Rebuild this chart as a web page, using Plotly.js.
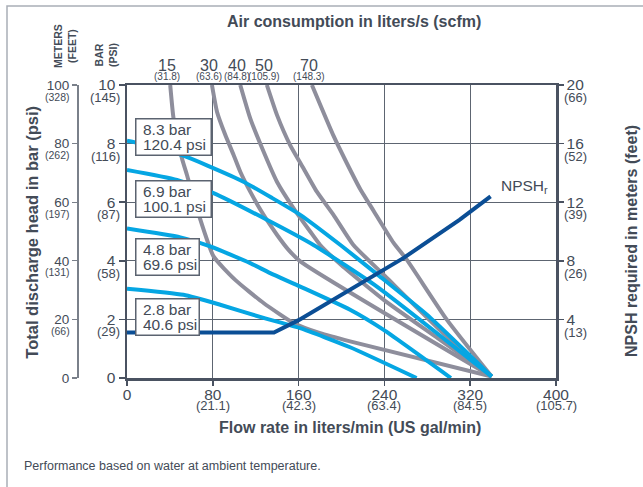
<!DOCTYPE html>
<html>
<head>
<meta charset="utf-8">
<script src="https://cdn.plot.ly/plotly-3.0.1.min.js"></script>
<style>
  html, body { margin: 0; padding: 0; background: #ffffff; }
  #chart { width: 643px; height: 487px; }
</style>
</head>
<body>
<div id="chart"></div>
<script>
// ---------------- DATA ----------------
const flowTicks = [0, 80, 160, 240, 320, 400];
const flowGal = ['', '(21.1)', '(42.3)', '(63.4)', '(84.5)', '(105.7)'];
const barTicks = [0, 2, 4, 6, 8, 10];
const psiLabels = ['', '(29)', '(58)', '(87)', '(116)', '(145)'];
const meterTicks = [0, 20, 40, 60, 80, 100];
const feetLabels = ['', '(66)', '(131)', '(197)', '(262)', '(328)'];
const npshTicks = [4, 8, 12, 16, 20];
const npshFeet = ['(13)', '(26)', '(39)', '(52)', '(66)'];

const airLps = ['15', '30', '40', '50', '70'];
const airScfm = ['(31.8)', '(63.6)', '(84.8)', '(105.9)', '(148.3)'];

// air consumption curves (flow l/min, head bar)
const air15X = [40.3, 43.4, 51.2, 55.9, 66.7, 80.7, 100.9, 127.3, 155.2, 180.1, 208, 340];
const air15Y = [10, 8.86, 7.5, 6.93, 5.6, 4.15, 3.35, 2.56, 1.88, 1.53, 1.25, 0.05];
const air30X = [79.2, 83.9, 91.6, 99.3, 105.6, 114.9, 127.3, 139.8, 150, 161.5, 340];
const air30Y = [10, 9.09, 8.3, 7.62, 7.04, 6.36, 5.57, 4.89, 4.4, 3.98, 0.05];
const air40X = [105.6, 114.9, 127.3, 139.8, 155.2, 170.8, 180.1, 200, 240, 290, 340];
const air40Y = [10, 8.86, 7.73, 6.7, 5.8, 5.0, 4.54, 3.85, 2.65, 1.35, 0.05];
const air50X = [130.4, 139.8, 152.1, 164.5, 177, 192.5, 211.1, 240, 290, 340];
const air50Y = [10, 8.98, 7.95, 7.16, 6.36, 5.57, 4.54, 3.5, 1.7, 0.05];
const air70X = [172.4, 192.5, 205, 217.4, 230, 248.4, 261, 298, 340];
const air70Y = [10, 8.27, 7.33, 6.45, 5.7, 4.62, 4.03, 2.0, 0.05];

// inlet air pressure curves (flow l/min, head bar)
const p83X = [0, 25, 50, 75, 108.6, 135, 161.5, 199, 236, 280, 340];
const p83Y = [8.1, 7.9, 7.62, 7.25, 6.7, 6.15, 5.57, 4.54, 3.46, 2.15, 0.05];
const p69X = [0, 46.6, 80.7, 130.4, 173.9, 233, 340];
const p69Y = [7.1, 6.76, 6.31, 5.4, 4.54, 3.12, 0.05];
const p48X = [0, 49.8, 77.6, 114.9, 133.5, 161.5, 208, 239, 302];
const p48Y = [5.1, 4.8, 4.49, 3.92, 3.58, 3.12, 2.33, 1.65, 0];
const p28X = [0, 52.7, 86.9, 127.3, 161.5, 208, 270];
const p28Y = [3.05, 2.84, 2.5, 2.05, 1.7, 1.05, 0];

const pressBar = ['8.3 bar', '6.9 bar', '4.8 bar', '2.8 bar'];
const pressPsi = ['120.4 psi', '100.1 psi', '69.6 psi', '40.6 psi'];

// NPSH required (flow l/min, meters)
const npshX = [0, 137, 160, 200, 258, 310, 339];
const npshY = [3.1, 3.1, 3.95, 5.7, 8.2, 10.8, 12.4];

// ---------------- STYLE ----------------
const FONT = 'Liberation Sans, Arial, Helvetica, sans-serif';
const TXT = '#434b57';
const GRAY = '#8e8e9c';
const BLUE = '#05a6e3';
const NAVY = '#0b4e95';
const GRID = '#5d6571';
const AXIS = '#4a5261';

function curve(x, y, color, yaxis) {
  return {
    type: 'scatter', mode: 'lines', x: x, y: y, yaxis: yaxis || 'y',
    line: { color: color, width: 4, shape: 'spline', smoothing: 0.5 },
    hoverinfo: 'skip', showlegend: false, cliponaxis: true
  };
}

const traces = [
  curve(air15X, air15Y, GRAY), curve(air30X, air30Y, GRAY), curve(air40X, air40Y, GRAY),
  curve(air50X, air50Y, GRAY), curve(air70X, air70Y, GRAY),
  curve(p28X, p28Y, BLUE), curve(p48X, p48Y, BLUE), curve(p69X, p69Y, BLUE), curve(p83X, p83Y, BLUE),
  Object.assign(curve(npshX, npshY, NAVY, 'y2'), { line: { color: NAVY, width: 4, shape: 'linear' } })
];
const airTopX = [air15X[0], air30X[0], air40X[0], air50X[0], air70X[0]];

// plot geometry (pixels)
const W = 643, H = 487;
const ML = 77, MR = 87, MT = 85, MB = 109;
const PW = W - ML - MR, PH = H - MT - MB;
const px = v => (v - ML) / PW;       // pixel x -> paper
const py = v => (H - MB - v) / PH;   // pixel y -> paper
const xDom0 = px(127);

const ann = [];
// parentheticals on axes
barTicks.forEach((t, i) => { if (psiLabels[i]) ann.push({ xref: 'paper', yref: 'y', x: xDom0, y: t, xanchor: 'right', yanchor: 'middle', xshift: -5.5, yshift: -12.5, text: psiLabels[i], showarrow: false, font: { family: FONT, size: 13, color: TXT } }); });
meterTicks.forEach((t, i) => { if (feetLabels[i]) ann.push({ xref: 'paper', yref: 'y3', x: 0, y: t, xanchor: 'right', yanchor: 'middle', xshift: -5, yshift: -11.5, text: feetLabels[i], showarrow: false, font: { family: FONT, size: 10.5, color: TXT } }); });
npshTicks.forEach((t, i) => { ann.push({ xref: 'paper', yref: 'y2', x: 1, y: t, xanchor: 'left', yanchor: 'middle', xshift: 5.5, yshift: -12.7, text: npshFeet[i], showarrow: false, font: { family: FONT, size: 13, color: TXT } }); });
flowTicks.forEach((t, i) => { if (flowGal[i]) ann.push({ xref: 'x', yref: 'paper', x: t, y: 0, xanchor: 'center', yanchor: 'middle', yshift: -27, text: flowGal[i], showarrow: false, font: { family: FONT, size: 13, color: TXT } }); });
// air consumption labels
airLps.forEach((t, i) => {
  ann.push({ xref: 'x', yref: 'paper', x: airTopX[i], y: py(65), xanchor: 'center', yanchor: 'middle', xshift: -3, text: t, showarrow: false, font: { family: FONT, size: 16, color: TXT } });
  ann.push({ xref: 'x', yref: 'paper', x: airTopX[i], y: py(76.5), xanchor: 'center', yanchor: 'middle', xshift: -3, text: airScfm[i], showarrow: false, font: { family: FONT, size: 10, color: TXT } });
});
// pressure boxes (box + two text lines)
const boxY = [8.225, 6.11, 4.12, 2.07];
const boxW = [77, 77, 65, 65];
pressBar.forEach((b, i) => {
  ann.push({ xref: 'x', yref: 'y', x: 7.7, y: boxY[i], xanchor: 'left', yanchor: 'middle',
    text: ' ', width: boxW[i] - 3, height: 35, showarrow: false, bgcolor: '#ffffff', bordercolor: '#5b6370', borderwidth: 1.5, borderpad: 0,
    font: { family: FONT, size: 10, color: TXT } });
  ann.push({ xref: 'x', yref: 'y', x: 7.7, y: boxY[i], xanchor: 'left', yanchor: 'middle', xshift: 6, yshift: 7.8,
    text: b, showarrow: false, font: { family: FONT, size: 15.5, color: TXT } });
  ann.push({ xref: 'x', yref: 'y', x: 7.7, y: boxY[i], xanchor: 'left', yanchor: 'middle', xshift: 6, yshift: -7.6,
    text: pressPsi[i], showarrow: false, font: { family: FONT, size: 15.5, color: TXT } });
});
// NPSHr label
ann.push({ xref: 'x', yref: 'y', x: 347, y: 6.55, xanchor: 'left', yanchor: 'middle', text: 'NPSH<sub>r</sub>', showarrow: false, font: { family: FONT, size: 15.5, color: TXT } });
// titles
ann.push({ xref: 'paper', yref: 'paper', x: px(354), y: py(21.7), xanchor: 'center', yanchor: 'middle', text: '<b>Air consumption in liters/s (scfm)</b>', showarrow: false, font: { family: FONT, size: 16, color: TXT } });
ann.push({ xref: 'paper', yref: 'paper', x: px(350), y: py(427), xanchor: 'center', yanchor: 'middle', text: '<b>Flow rate in liters/min (US gal/min)</b>', showarrow: false, font: { family: FONT, size: 16, color: TXT } });
ann.push({ xref: 'paper', yref: 'paper', x: px(31.7), y: py(232), xanchor: 'center', yanchor: 'middle', textangle: -90, text: '<b>Total discharge head in bar (psi)</b>', showarrow: false, font: { family: FONT, size: 16.5, color: TXT } });
ann.push({ xref: 'paper', yref: 'paper', x: px(632), y: py(241), xanchor: 'center', yanchor: 'middle', textangle: -90, text: '<b>NPSH required in meters (feet)</b>', showarrow: false, font: { family: FONT, size: 16, color: TXT } });
ann.push({ xref: 'paper', yref: 'paper', x: px(65), y: py(46), xanchor: 'center', yanchor: 'middle', textangle: -90, text: '<b>METERS<br>(FEET)</b>', showarrow: false, font: { family: FONT, size: 10.5, color: TXT } });
ann.push({ xref: 'paper', yref: 'paper', x: px(106), y: py(55), xanchor: 'center', yanchor: 'middle', textangle: -90, text: '<b>BAR<br>(PSI)</b>', showarrow: false, font: { family: FONT, size: 10.5, color: TXT } });
ann.push({ xref: 'paper', yref: 'paper', x: px(22), y: py(466), xanchor: 'left', yanchor: 'middle', text: 'Performance based on water at ambient temperature.', showarrow: false, font: { family: FONT, size: 12.5, color: TXT } });

const layout = {
  width: W, height: H,
  margin: { l: ML, r: MR, t: MT, b: MB, pad: 0 },
  paper_bgcolor: '#ffffff', plot_bgcolor: '#ffffff',
  font: { family: FONT, color: TXT },
  showlegend: false,
  xaxis: {
    domain: [xDom0, 1], range: [0, 400], tickmode: 'array', tickvals: flowTicks, ticktext: flowTicks.map(String),
    showgrid: true, gridcolor: GRID, gridwidth: 1, zeroline: false,
    showline: true, linecolor: AXIS, linewidth: 2.5, mirror: true,
    ticks: 'outside', ticklen: 5, tickwidth: 1.5, tickcolor: AXIS, ticklabelstandoff: -4,
    tickfont: { family: FONT, size: 15.5, color: TXT }, fixedrange: true
  },
  yaxis: {
    range: [0, 10], tickmode: 'array', tickvals: barTicks, ticktext: barTicks.map(String),
    showgrid: true, gridcolor: GRID, gridwidth: 1, zeroline: false,
    showline: true, linecolor: AXIS, linewidth: 2.5,
    ticks: 'outside', ticklen: 6, tickwidth: 1.5, tickcolor: AXIS,
    tickfont: { family: FONT, size: 15.5, color: TXT }, fixedrange: true
  },
  yaxis2: {
    overlaying: 'y', side: 'right', anchor: 'x', range: [0, 20], tickmode: 'array', tickvals: npshTicks, ticktext: npshTicks.map(String),
    showgrid: false, zeroline: false, showline: true, linecolor: AXIS, linewidth: 2.5,
    ticks: 'outside', ticklen: 5, tickwidth: 1.5, tickcolor: AXIS,
    tickfont: { family: FONT, size: 15.5, color: TXT }, fixedrange: true
  },
  yaxis3: {
    overlaying: 'y', side: 'left', anchor: 'free', position: 0, range: [0, 100], tickmode: 'array', tickvals: meterTicks, ticktext: meterTicks.map(String),
    showgrid: false, zeroline: false, showline: true, linecolor: '#7a808a', linewidth: 1.5,
    ticks: 'outside', ticklen: 5, tickwidth: 1.2, tickcolor: '#7a808a',
    tickfont: { family: FONT, size: 13.5, color: TXT }, fixedrange: true
  },
  annotations: ann,
  shapes: [
    { type: 'rect', xref: 'paper', yref: 'paper', x0: px(7), x1: px(700), y0: py(560), y1: py(6), line: { color: '#a9aeb6', width: 1.5 }, fillcolor: 'rgba(0,0,0,0)', layer: 'below' }
  ]
};

Plotly.newPlot('chart', traces, layout, { staticPlot: true, displayModeBar: false });
</script>
</body>
</html>
